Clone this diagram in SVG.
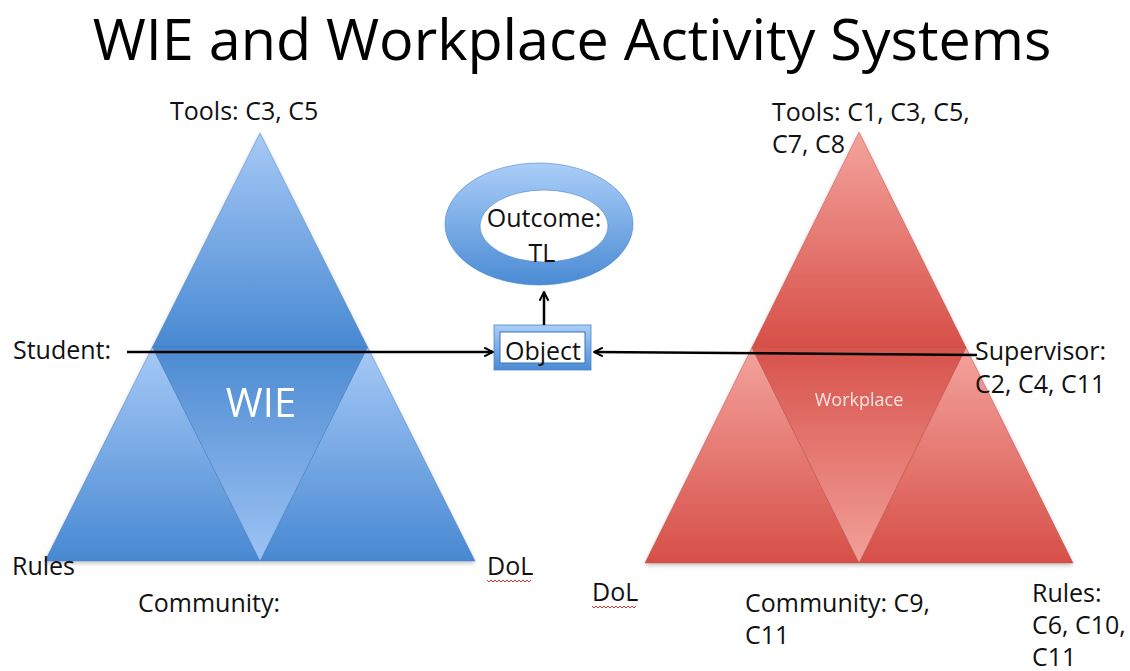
<svg xmlns="http://www.w3.org/2000/svg" width="1130" height="671" viewBox="0 0 1130 671">
<defs>
<linearGradient id="bUp" x1="0" y1="0" x2="0" y2="1"><stop offset="0" stop-color="#a6c9f6"/><stop offset="1" stop-color="#4889d2"/></linearGradient>
<linearGradient id="bDown" x1="0" y1="0" x2="0" y2="1"><stop offset="0" stop-color="#4b8ad1"/><stop offset="1" stop-color="#9dc3f4"/></linearGradient>
<linearGradient id="rUp" x1="0" y1="0" x2="0" y2="1"><stop offset="0" stop-color="#f4a39d"/><stop offset="1" stop-color="#d64f47"/></linearGradient>
<linearGradient id="rDown" x1="0" y1="0" x2="0" y2="1"><stop offset="0" stop-color="#d7534b"/><stop offset="1" stop-color="#f2a09a"/></linearGradient>
<linearGradient id="ring" x1="0" y1="0" x2="0" y2="1"><stop offset="0" stop-color="#abcef8"/><stop offset="1" stop-color="#4a8bd4"/></linearGradient>
<filter id="sh" x="-10%" y="-10%" width="120%" height="125%"><feDropShadow dx="0" dy="2" stdDeviation="2" flood-color="#000" flood-opacity="0.25"/></filter>
<marker id="ah" viewBox="0 0 10 10" refX="9" refY="5" markerWidth="11" markerHeight="11" markerUnits="userSpaceOnUse" orient="auto">
<path d="M1,1 L9,5 L1,9" fill="none" stroke="#000" stroke-width="1.8"/>
</marker>
<style>
.lbl{font-family:"Open Sans","Liberation Sans",sans-serif;font-size:25px;fill:#111}
.bt{stroke:#3f78bd;stroke-width:0.8;stroke-opacity:0.6}
.rt{stroke:#b84a43;stroke-width:0.8;stroke-opacity:0.6}
.conn{stroke:#000;stroke-width:2.5;fill:none}
.squig{fill:none;stroke:#e03030;stroke-width:1}
</style>
</defs>
<rect width="1130" height="671" fill="#fff"/>
<text x="572" y="60" text-anchor="middle" font-family="Open Sans, Liberation Sans, sans-serif" font-size="57.5" fill="#000">WIE and Workplace Activity Systems</text>

<g id="wie-triangle" filter="url(#sh)">
<polygon class="bt" points="260,133 152.5,347 367.5,347" fill="url(#bUp)"/>
<polygon class="bt" points="152.5,347 45,561 260,561" fill="url(#bUp)"/>
<polygon class="bt" points="367.5,347 260,561 475,561" fill="url(#bUp)"/>
<polygon class="bt" points="152.5,347 367.5,347 260,561" fill="url(#bDown)"/>
<text x="261" y="417" text-anchor="middle" font-family="Open Sans, Liberation Sans, sans-serif" font-size="40" fill="#fff">WIE</text>
</g>

<g id="workplace-triangle" filter="url(#sh)">
<polygon class="rt" points="859,132 752,347.5 966,347.5" fill="url(#rUp)"/>
<polygon class="rt" points="752,347.5 645,563 859,563" fill="url(#rUp)"/>
<polygon class="rt" points="966,347.5 859,563 1073,563" fill="url(#rUp)"/>
<polygon class="rt" points="752,347.5 966,347.5 859,563" fill="url(#rDown)"/>
<text x="859" y="406" text-anchor="middle" font-family="Open Sans, Liberation Sans, sans-serif" font-size="18" fill="#fbe4e1">Workplace</text>
</g>

<g id="outcome">
<path fill-rule="evenodd" fill="url(#ring)" stroke="#4a86cc" stroke-width="0.6" d="M445,224 a94,61 0 1,0 188,0 a94,61 0 1,0 -188,0 Z M480,226 a64,36 0 1,0 128,0 a64,36 0 1,0 -128,0 Z"/>
<text class="lbl" x="544" y="227" text-anchor="middle">Outcome:</text>
<text class="lbl" x="542" y="262" text-anchor="middle">TL</text>
</g>

<g id="object">
<rect x="494" y="325" width="97" height="45" fill="url(#ring)" stroke="#4a86cc" stroke-width="0.8"/>
<rect x="500" y="332" width="85" height="31" fill="#fff" stroke="#3a72b8" stroke-width="1"/>
<text class="lbl" x="543" y="360" text-anchor="middle">Object</text>
</g>

<g id="connectors">
<line class="conn" x1="127" y1="352" x2="493" y2="352" marker-end="url(#ah)"/>
<line class="conn" x1="977" y1="355" x2="594" y2="352" marker-end="url(#ah)"/>
<line class="conn" x1="544" y1="325" x2="544" y2="292" marker-end="url(#ah)"/>
</g>

<g id="labels">
<text class="lbl" x="170" y="120">Tools: C3, C5</text>
<text class="lbl" x="772" y="121">Tools: C1, C3, C5,</text>
<text class="lbl" x="772" y="153">C7, C8</text>
<text class="lbl" x="13" y="359">Student:</text>
<text class="lbl" x="975" y="360">Supervisor:</text>
<text class="lbl" x="975" y="393">C2, C4, C11</text>
<text class="lbl" x="12" y="575">Rules</text>
<text class="lbl" x="487" y="575">DoL</text>
<path class="squig" d="M487,580 l2,2 l2,-2 l2,2 l2,-2 l2,2 l2,-2 l2,2 l2,-2 l2,2 l2,-2 l2,2 l2,-2 l2,2 l2,-2 l2,2 l2,-2 l2,2 l2,-2 l2,2 l2,-2 l2,2 l2,-2"/>
<text class="lbl" x="138" y="612">Community:</text>
<text class="lbl" x="592" y="601">DoL</text>
<path class="squig" d="M592,606 l2,2 l2,-2 l2,2 l2,-2 l2,2 l2,-2 l2,2 l2,-2 l2,2 l2,-2 l2,2 l2,-2 l2,2 l2,-2 l2,2 l2,-2 l2,2 l2,-2 l2,2 l2,-2 l2,2 l2,-2"/>
<text class="lbl" x="745" y="612">Community: C9,</text>
<text class="lbl" x="745" y="644">C11</text>
<text class="lbl" x="1032" y="602">Rules:</text>
<text class="lbl" x="1032" y="634">C6, C10,</text>
<text class="lbl" x="1032" y="666">C11</text>
</g>
</svg>
